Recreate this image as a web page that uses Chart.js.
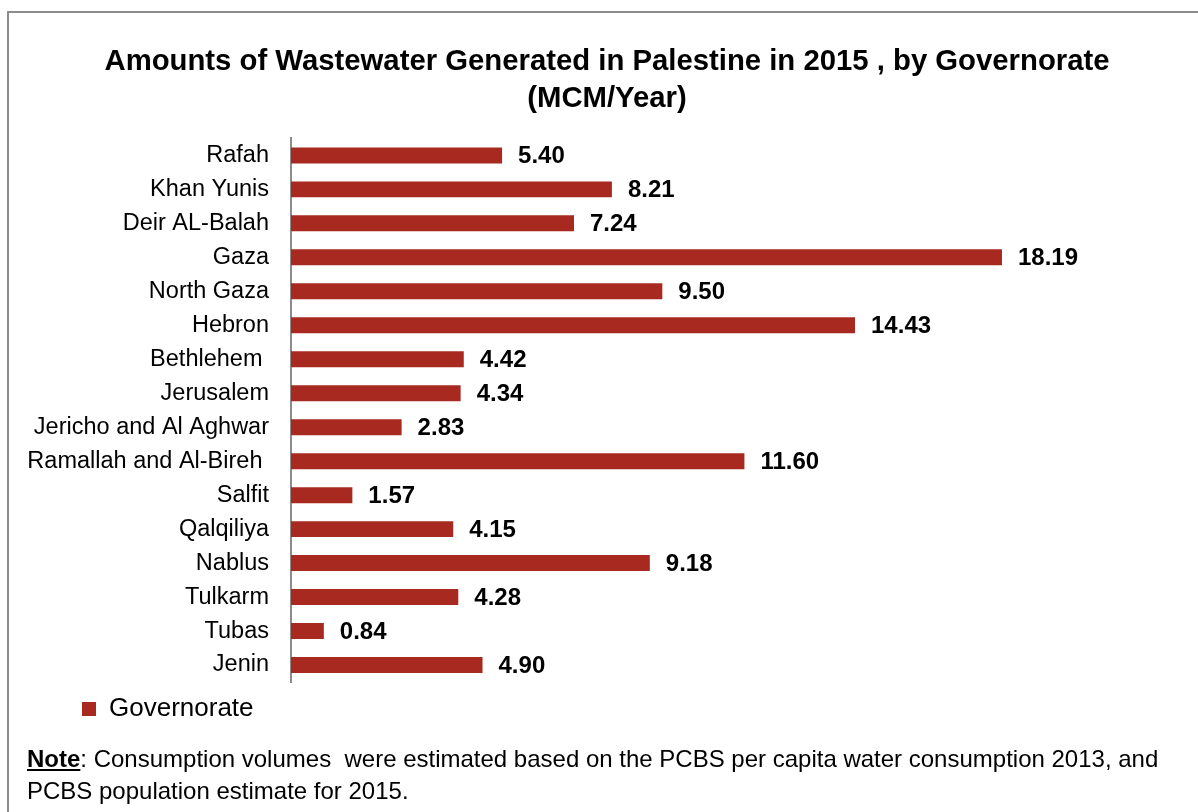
<!DOCTYPE html>
<html>
<head>
<meta charset="utf-8">
<script src="https://cdn.jsdelivr.net/npm/chart.js@4/dist/chart.umd.min.js"></script>
<style>
  html, body { margin: 0; padding: 0; background: #fff; overflow: hidden; }
  body { width: 1198px; height: 812px; position: relative; font-family: "Liberation Sans", Arial, sans-serif; }
  #frame { position: absolute; left: 7px; top: 11px; width: 1300px; height: 900px; border: 2px solid #8c8c8c; }
  #wrap { position: absolute; left: 0; top: 0; width: 1198px; height: 812px; }
  #note { position: absolute; left: 27px; top: 743px; font-size: 24px; line-height: 32px; color: #000; white-space: pre; }
  #note b { text-decoration: underline; }
</style>
</head>
<body>
<div id="frame"></div>
<div id="wrap"><canvas id="bars"></canvas></div>
<div id="note"><b>Note</b>: Consumption volumes  were estimated based on the PCBS per capita water consumption 2013, and
PCBS population estimate for 2015.</div>
<script>
const governorates = [
  'Rafah', 'Khan Yunis', 'Deir AL-Balah', 'Gaza', 'North Gaza', 'Hebron',
  'Bethlehem ', 'Jerusalem', 'Jericho and Al Aghwar', 'Ramallah and Al-Bireh ',
  'Salfit', 'Qalqiliya', 'Nablus', 'Tulkarm', 'Tubas', 'Jenin'
];
const wastewater = [
  5.40, 8.21, 7.24, 18.19, 9.50, 14.43,
  4.42, 4.34, 2.83, 11.60,
  1.57, 4.15, 9.18, 4.28, 0.84, 4.90
];

const FONT = '"Liberation Sans", Arial, sans-serif';

// value printed to the right of each bar
const barValues = {
  id: 'barValues',
  afterDatasetsDraw(chart) {
    const ctx = chart.ctx;
    const meta = chart.getDatasetMeta(0);
    ctx.save();
    ctx.font = 'bold 24px ' + FONT;
    ctx.fillStyle = '#000';
    ctx.textAlign = 'left';
    ctx.textBaseline = 'middle';
    meta.data.forEach((bar, i) => {
      ctx.fillText(wastewater[i].toFixed(2), bar.x + 16, bar.y + 1);
    });
    ctx.restore();
  }
};

// push the legend in under the category labels
const legendIndent = {
  id: 'legendIndent',
  afterLayout(chart) {
    chart.legend.left += 44;
    chart.legend.right += 44;
  }
};

new Chart(document.getElementById('bars'), {
  type: 'bar',
  data: {
    labels: governorates,
    datasets: [{
      label: 'Governorate',
      data: wastewater,
      backgroundColor: '#a8291f',
      borderWidth: 0,
      categoryPercentage: 1,
      barPercentage: 0.47
    }]
  },
  options: {
    indexAxis: 'y',
    responsive: true,
    maintainAspectRatio: false,
    animation: false,
    layout: { padding: { top: 0, left: 24, right: 8, bottom: 80 } },
    scales: {
      x: { display: false, min: 0, max: 23 },
      y: {
        grid: { display: false, drawTicks: false },
        border: { display: true, color: '#8c8c8c', width: 2 },
        ticks: { color: '#000', padding: 22, font: { family: FONT, size: 23.5 } },
        afterFit(scale) { scale.width = 267; }
      }
    },
    plugins: {
      title: {
        display: true,
        text: ['Amounts of Wastewater Generated in Palestine in 2015 , by Governorate', '(MCM/Year)'],
        color: '#000',
        font: { family: FONT, size: 29.3, weight: 'bold', lineHeight: 1.27 },
        padding: { top: 43, bottom: 21 }
      },
      legend: {
        position: 'bottom',
        align: 'start',
        labels: {
          color: '#000',
          boxWidth: 14,
          boxHeight: 14,
          padding: 14,
          font: { family: FONT, size: 26 }
        }
      },
      tooltip: { enabled: false }
    }
  },
  plugins: [barValues, legendIndent]
});
</script>
</body>
</html>
